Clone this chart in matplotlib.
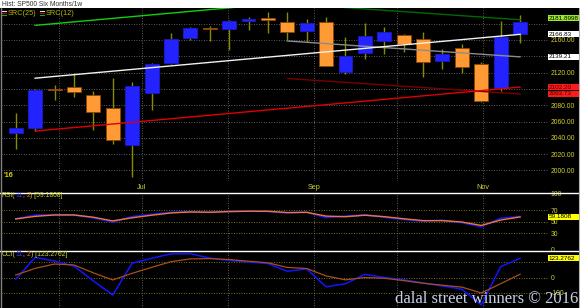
import matplotlib
matplotlib.use('Agg')
import matplotlib.pyplot as plt
import matplotlib.dates as mdates
import matplotlib.transforms as mtrans
from matplotlib.patches import Rectangle
from matplotlib.text import Annotation
import pandas as pd

plt.rcParams['font.family'] = ['Liberation Sans', 'DejaVu Sans']

# weekly bars, SP500, six months
weeks = ['2016-05-16', '2016-05-23', '2016-05-30', '2016-06-06', '2016-06-13', '2016-06-20',
         '2016-06-27', '2016-07-04', '2016-07-11', '2016-07-18', '2016-07-25', '2016-08-01',
         '2016-08-08', '2016-08-15', '2016-08-22', '2016-08-29', '2016-09-05', '2016-09-12',
         '2016-09-19', '2016-09-26', '2016-10-03', '2016-10-10', '2016-10-17', '2016-10-24',
         '2016-10-31', '2016-11-07', '2016-11-14']
opens = [2046.5, 2052.2, 2100.0, 2102.0, 2092.0, 2076.0, 2031.0, 2095.0, 2131.7, 2162.7,
         2174.5, 2173.0, 2183.6, 2187.3, 2182.4, 2171.0, 2182.4, 2121.1, 2144.4, 2159.1,
         2165.7, 2161.2, 2133.8, 2149.8, 2130.5, 2100.7, 2166.9]
highs = [2070.0, 2100.0, 2105.0, 2120.0, 2098.0, 2113.0, 2108.0, 2131.4, 2169.0, 2176.0,
         2177.4, 2184.0, 2188.5, 2194.0, 2194.0, 2185.7, 2187.7, 2163.2, 2180.4, 2176.2,
         2167.0, 2170.0, 2148.9, 2155.0, 2133.0, 2183.0, 2190.6]
lows = [2026.0, 2048.0, 2086.0, 2090.5, 2050.0, 2032.0, 1991.7, 2074.0, 2130.0, 2160.0,
        2159.0, 2147.7, 2172.2, 2169.0, 2160.0, 2157.8, 2128.0, 2118.3, 2136.6, 2142.4,
        2144.9, 2115.0, 2124.4, 2119.9, 2084.0, 2098.0, 2156.6]
closes = [2052.3, 2099.1, 2099.1, 2096.1, 2071.2, 2037.4, 2103.0, 2129.9, 2161.7, 2175.0,
          2173.6, 2182.9, 2185.5, 2184.1, 2169.7, 2180.8, 2128.4, 2140.0, 2165.2, 2169.4,
          2154.7, 2133.3, 2142.4, 2126.5, 2084.8, 2164.0, 2181.9]

# regression channels: bar index of start/end and the value at each end
src25_bars = [1, 26]
src25_up = [2177.8, 2231.5]
src25_mid = [2113.1, 2166.83]
src25_low = [2048.3, 2102.20]
src12_bars = [14, 26]
src12_up = [2204.6, 2184.69]
src12_mid = [2158.7, 2139.21]
src12_low = [2112.7, 2093.73]

rsi_main = [55.0, 61.5, 62.5, 62.0, 57.0, 49.5, 59.0, 63.0, 66.7, 67.8, 66.5, 68.5, 68.8, 68.5,
            65.5, 67.0, 57.5, 59.5, 62.5, 58.0, 54.0, 51.0, 52.5, 48.5, 41.5, 56.0, 59.18]
rsi_sig = [55.0, 59.5, 62.0, 62.0, 58.0, 51.5, 57.0, 61.5, 65.5, 67.3, 66.8, 68.0, 68.6, 68.5,
           66.3, 66.6, 60.0, 59.0, 61.5, 59.0, 55.3, 52.0, 52.0, 49.5, 43.5, 53.0, 58.5]
cci_main = [-12, 130, 106, 74, -22, -113, 92, 124, 152, 154, 125, 110, 100, 90,
            40, 55, -60, -40, 20, 0, -15, -35, -55, -75, -177, 70, 123.28]
cci_sig = [16, 59, 87, 81, 30, -16, 27, 65, 102, 120, 122, 116, 105, 95,
           65, 58, 10, -15, 0, -5, -20, -37, -50, -62, -100, -40, 21]

price_ticks = [2000, 2020, 2040, 2060, 2080, 2120, 2160]
rsi_ticks = [0, 30, 50, 70, 100]
cci_ticks = [-100, 0]

last_close = 2181.8998
rsi_last = 59.1808
cci_last = 123.2762

W, H = 580, 308
fig = plt.figure(figsize=(W / 100, H / 100), dpi=100, facecolor='black')


def frame(x0, y0, x1, y1):
    return [x0 / W, 1 - y1 / H, (x1 - x0) / W, (y1 - y0) / H]


ax = fig.add_axes(frame(1, 8, 548, 181))
rsi_ax = fig.add_axes(frame(1, 193, 548, 251), sharex=ax)
cci_ax = fig.add_axes(frame(1, 251, 548, 308), sharex=ax)

olive = '#CFCF30'
wick_c = '#8A8A00'
grid_c = '#7A7A7A'
dots = (0, (1, 2))
fs = 4.9

xs = mdates.date2num(pd.to_datetime(weeks) + pd.Timedelta(hours=12))
step = xs[1] - xs[0]
months = mdates.date2num(pd.to_datetime(['2016-06-01', '2016-07-01', '2016-08-01',
                                         '2016-09-01', '2016-10-01', '2016-11-01']))
month_labels = ['', 'Jul', '', 'Sep', '', 'Nov']

for a in (ax, rsi_ax, cci_ax):
    a.set_facecolor('black')
    for s in a.spines.values():
        s.set_visible(False)
    a.yaxis.tick_right()
    a.tick_params(axis='y', length=0, pad=2, labelsize=fs, labelcolor=olive)
    a.tick_params(axis='x', length=0)
    for m in months:
        a.axvline(m, color=grid_c, lw=0.6, ls=dots, zorder=0)

ax.set_xlim(xs[0] - 0.76 * step, xs[0] + 27.44 * step)

# price pane
ax.set_ylim(1987.1, 2199.1)
ax.set_yticks(price_ticks)
ax.set_yticklabels([f'{t:.2f}' for t in price_ticks])
for t in range(2000, 2181, 20):
    ax.axhline(t, color=grid_c, lw=0.6, ls=dots, zorder=0)
ax.set_xticks(months)
ax.set_xticklabels(month_labels)
ax.tick_params(axis='x', labelsize=fs + 0.3, labelcolor=olive, pad=2)

bw = step * 0.72
for x, o, h, l, c in zip(xs, opens, highs, lows, closes):
    ax.vlines(x, l, h, color=wick_c, lw=1, zorder=2)
    up = c >= o
    fc = '#2323FF' if up else '#FF9A35'
    ec = '#1A1AC8' if up else '#8B4500'
    ax.add_patch(Rectangle((x - bw / 2, min(o, c)), bw, max(abs(c - o), 0.6),
                           facecolor=fc, edgecolor=ec, lw=0.6, zorder=3))

ch25_x = [xs[i] for i in src25_bars]
ch12_x = [xs[i] for i in src12_bars]
ax.plot(ch12_x, src12_up, color='#006A00', lw=1, zorder=4)
ax.plot(ch12_x, src12_mid, color='#8C8C8C', lw=1, zorder=4)
ax.plot(ch12_x, src12_low, color='#7A0000', lw=1, zorder=4)
ax.plot(ch25_x, src25_up, color='#10D010', lw=1, zorder=4)
ax.plot(ch25_x, src25_mid, color='#F0F0F0', lw=1, zorder=4)
ax.plot(ch25_x, src25_low, color='#E00000', lw=1, zorder=4)
ax.text(0.004, 0.012, "'16", transform=ax.transAxes, color='#D8D800', fontsize=fs + 0.3,
        fontweight='bold', va='bottom', ha='left')

# legend
for lx, name in ((2, 'SRC(25)'), (40, 'SRC(12)')):
    for dy, col in ((-2, '#E0E0E0'), (0, '#C00000'), (2, '#20A020')):
        fig.add_artist(plt.Line2D([lx / W, (lx + 4) / W], [1 - (13 + dy) / H] * 2,
                                  color=col, lw=0.8))
    fig.text((lx + 6) / W, 1 - 13.5 / H, name, color='#B8B800', fontsize=5.3, va='center')

# RSI pane
rsi_ax.set_ylim(-1.8, 100.9)
rsi_ax.set_yticks(rsi_ticks)
rsi_ax.set_yticklabels([str(t) for t in rsi_ticks])
for lv in (30, 50, 70):
    rsi_ax.axhline(lv, color='#9A9A20', lw=0.6, ls=dots, zorder=0)
rsi_ax.plot(xs, rsi_main, color='#1414FF', lw=1.3, zorder=3)
rsi_ax.plot(xs, rsi_sig, color='#F07A22', lw=1.0, zorder=4)
plt.setp(rsi_ax.get_xticklabels(), visible=False)

# CCI pane
cci_ax.set_ylim(-196.8, 171)
cci_ax.set_yticks(cci_ticks)
cci_ax.set_yticklabels([str(t) for t in cci_ticks])
for lv in (-100, 0, 100):
    cci_ax.axhline(lv, color='#9A9A20', lw=0.6, ls=dots, zorder=0)
cci_ax.plot(xs, cci_main, color='#1414FF', lw=1.1, zorder=3)
cci_ax.plot(xs, cci_sig, color='#A8501C', lw=0.9, zorder=4)
plt.setp(cci_ax.get_xticklabels(), visible=False)


def value_box(a, value, text, fc, tc='black', dy=0):
    tr = mtrans.blended_transform_factory(fig.transFigure, a.transData)
    off = mtrans.offset_copy(tr, fig=fig, x=0, y=dy * 0.72, units='points')
    y0, y1 = a.get_ylim()
    hh = 6.0 * (y1 - y0) / (a.get_position().height * H)
    a.add_patch(Rectangle((548 / W, value - hh / 2), 32 / W, hh, transform=off,
                          facecolor=fc, edgecolor='none', clip_on=False, zorder=6))
    a.text(548.5 / W, value, text, transform=off, fontsize=fs - 0.3, color=tc, va='center',
           ha='left', zorder=7, clip_on=False)


value_box(ax, last_close, f'{last_close:.4f}', '#9BEA2A', dy=4)
value_box(ax, src25_mid[1], f'{src25_mid[1]:.2f}', 'white')
value_box(ax, src12_mid[1], f'{src12_mid[1]:.2f}', 'white')
value_box(ax, src25_low[1], f'{src25_low[1]:.2f}', '#FF1A1A', tc='#3A0000')
value_box(ax, src12_low[1], f'{src12_low[1]:.2f}', '#FF1A1A', tc='#3A0000')
value_box(rsi_ax, rsi_last, f'{rsi_last:.4f}', '#FFFF00')
value_box(cci_ax, cci_last, f'{cci_last:.4f}', '#FFFF00')


def rich(x, y, pieces):
    prev = fig.text(x / W, 1 - y / H, pieces[0][0], color=pieces[0][1], fontsize=fs,
                    va='bottom', ha='left')
    for s, c in pieces[1:]:
        prev = fig.add_artist(Annotation(s, xy=(1, 0), xycoords=prev, color=c,
                                         fontsize=fs, va='bottom', ha='left'))


rich(2, 199, [('RSI(', olive), ('11', '#3030FF'), (', ', olive), ('2', '#F07A22'),
              (f') [{rsi_last:.4f}]', olive)])
rich(2, 258, [('CCI(', olive), ('11', '#3030FF'), (', ', olive), ('2', '#F07A22'),
              (f') [{cci_last:.4f}]', olive)])

# title bar, separators, borders
fig.add_artist(Rectangle((0, 1 - 8 / H), 1, 8 / H, transform=fig.transFigure,
                         facecolor='white', edgecolor='none'))
fig.text(2 / W, 1 - 4 / H, 'Hist: SP500 Six Months/1w', color='#303030', fontsize=4.8,
         va='center', ha='left')
for yy in (193, 251):
    fig.add_artist(plt.Line2D([0, 1], [1 - yy / H] * 2, color='white', lw=1))
fig.add_artist(plt.Line2D([0.8 / W] * 2, [0, 1 - 8 / H], color='#808080', lw=1))
fig.add_artist(plt.Line2D([579.3 / W] * 2, [0, 1 - 8 / H], color='#B0B0B0', lw=0.8))

fig.text(578 / W, 5 / H, 'dalal street winners \u00a9 2016', family='Liberation Serif',
         fontsize=12, color='#C8D2E6', ha='right', va='baseline', zorder=10)

fig.savefig('out.png', dpi=100, facecolor='black')
